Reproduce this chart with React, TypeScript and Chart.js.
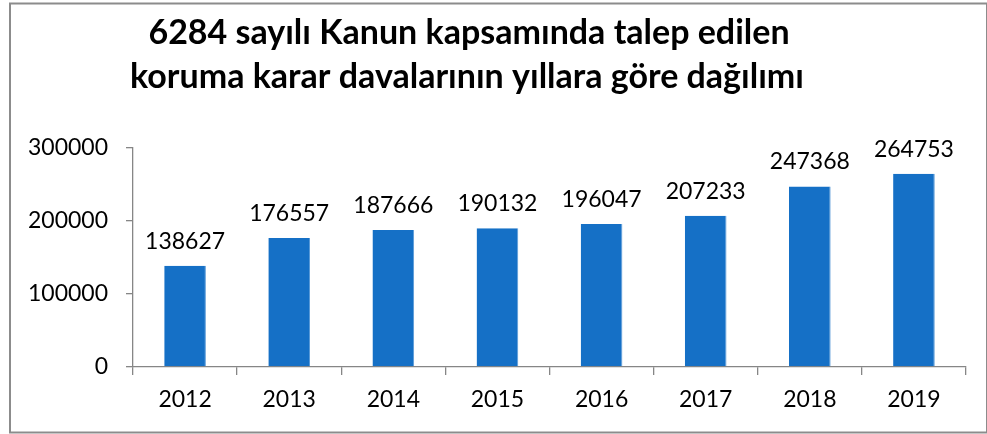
import React, { useEffect, useRef } from "react";
import { Chart, registerables } from "chart.js";

Chart.register(...registerables);

const titleLines = [
  "6284 sayılı Kanun kapsamında talep edilen",
  "koruma karar davalarının yıllara göre dağılımı",
];
const years = ["2012", "2013", "2014", "2015", "2016", "2017", "2018", "2019"];
const cases = [138627, 176557, 187666, 190132, 196047, 207233, 247368, 264753];
const yTicks = [0, 100000, 200000, 300000];

const W = 987;
const H = 434;
const FONT = "Lato, 'Open Sans', sans-serif";

const framePlugin = {
  id: "frameAndTitle",
  beforeDraw(chart: any) {
    const ctx = chart.ctx;
    ctx.save();
    ctx.fillStyle = "#ffffff";
    ctx.fillRect(0, 0, W, H);
    ctx.strokeStyle = "#8c8c8c";
    ctx.lineWidth = 2;
    ctx.strokeRect(10, 3.5, 977, 429);
    ctx.restore();
  },
  afterDraw(chart: any) {
    const ctx = chart.ctx;
    ctx.save();
    ctx.fillStyle = "#000000";
    ctx.font = `bold 34px ${FONT}`;
    ctx.textAlign = "center";
    ctx.textBaseline = "alphabetic";
    ctx.fillText(titleLines[0], 469, 44);
    ctx.fillText(titleLines[1], 467, 88);
    // data labels
    ctx.font = `23px ${FONT}`;
    const meta = chart.getDatasetMeta(0);
    meta.data.forEach((bar: any, i: number) => {
      ctx.fillText(String(cases[i]), bar.x, bar.y - 17);
    });
    ctx.restore();
  },
};

export default function App() {
  const ref = useRef<HTMLCanvasElement | null>(null);
  useEffect(() => {
    if (!ref.current) return;
    const chart = new Chart(ref.current, {
      type: "bar",
      data: {
        labels: years,
        datasets: [
          {
            data: cases,
            backgroundColor: "#1570c6",
            borderColor: "#5b9bd8",
            borderWidth: { left: 0, top: 0, bottom: 0, right: 1 } as any,
            categoryPercentage: 1,
            barPercentage: 0.4,
          },
        ],
      },
      options: {
        responsive: false,
        animation: false,
        devicePixelRatio: 1,
        layout: { padding: { left: 10, right: 21, top: 148, bottom: 27 } },
        plugins: {
          legend: { display: false },
          title: { display: false },
          tooltip: { enabled: false },
        },
        scales: {
          x: {
            afterFit: (s: any) => {
              s.height = 40;
            },
            grid: {
              offset: true,
              drawOnChartArea: false,
              drawTicks: true,
              tickLength: 8,
              color: "#868686",
              lineWidth: 1.3,
            },
            border: { color: "#868686", width: 1.3 },
            ticks: {
              color: "#000000",
              font: { family: FONT, size: 23 },
              padding: 11,
            },
          },
          y: {
            min: 0,
            max: 300000,
            afterFit: (s: any) => {
              s.width = 123;
            },
            afterBuildTicks: (s: any) => {
              s.ticks = yTicks.map((v) => ({ value: v }));
            },
            grid: {
              drawOnChartArea: false,
              drawTicks: true,
              tickLength: 7,
              color: "#868686",
              lineWidth: 1.3,
            },
            border: { color: "#868686", width: 1.3 },
            ticks: {
              color: "#000000",
              font: { family: FONT, size: 23 },
              padding: 18,
              callback: (v: any) => String(v),
            },
          },
        },
      },
      plugins: [framePlugin],
    });
    return () => chart.destroy();
  }, []);
  return (
    <div style={{ position: "fixed", left: 0, top: 0, width: W, height: H }}>
      <canvas ref={ref} width={W} height={H} style={{ width: W, height: H }} />
    </div>
  );
}
